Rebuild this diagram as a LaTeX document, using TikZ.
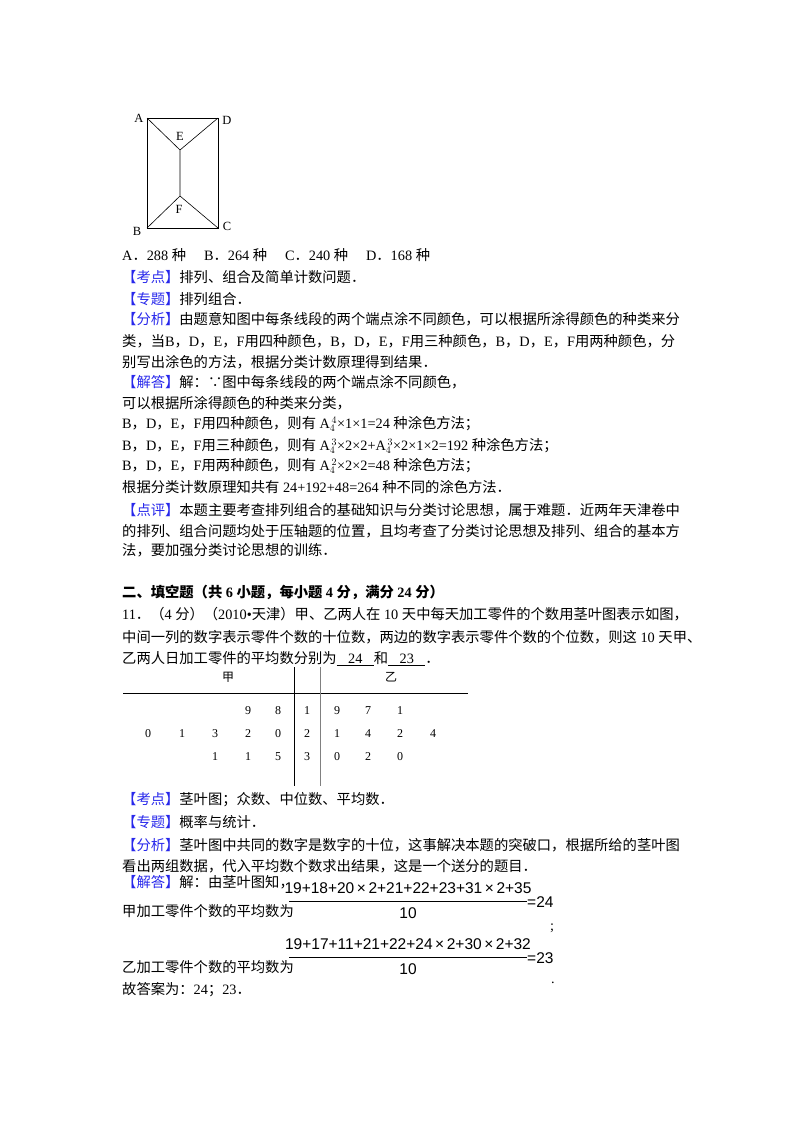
\documentclass[tikz,border=0pt]{standalone}
\usepackage{fontspec}
\setmainfont{Liberation Serif}
\newfontfamily\cjk{Noto Sans CJK SC}
\newfontfamily\arialf{Liberation Sans}
\XeTeXinterchartokenstate=1
\newXeTeXintercharclass\CJKcls
\newcount\cc
\cc="3000 \loop \XeTeXcharclass\cc=\CJKcls \advance\cc 1 \ifnum\cc<"A000 \repeat
\cc="FF00 \loop \XeTeXcharclass\cc=\CJKcls \advance\cc 1 \ifnum\cc<"FFF0 \repeat
\XeTeXcharclass`∵=\CJKcls
\XeTeXinterchartoks 0 \CJKcls = {\cjk}
\XeTeXinterchartoks 4095 \CJKcls = {\cjk}
\XeTeXinterchartoks \CJKcls 0 = {\rmfamily}
\XeTeXinterchartoks \CJKcls 4095 = {\rmfamily}
\definecolor{lb}{RGB}{40,40,235}
\newcommand{\lab}[1]{\textcolor{lb}{【#1】}}
\begin{document}
\begin{tikzpicture}[x=1pt,y=-1pt,
  tl/.style={anchor=west,inner sep=0pt,font=\fontsize{14.3}{16}\selectfont},
  fl/.style={inner sep=0pt,font=\fontsize{12.5}{14}\selectfont},
  sl/.style={inner sep=0pt,font=\fontsize{12}{14}\selectfont},
  fr/.style={inner sep=0pt,font=\arialf\fontsize{15.5}{17}\selectfont}]
\useasboundingbox (0,0) rectangle (800,1132);
% figure
\coordinate (A) at (147,118); \coordinate (D) at (218,118);
\coordinate (B) at (147,228); \coordinate (C) at (218,228);
\coordinate (E) at (180,150); \coordinate (F) at (180,196);
\draw[line width=0.8pt] (A)--(D)--(C)--(B)--cycle;
\draw[line width=0.6pt] (A)--(E)--(D) (E)--(F) (B)--(F)--(C);
\node[fl] (lA) at (139,118) {A}; \node[fl] (lD) at (227,120) {D};
\node[fl] (lE) at (180,136) {E}; \node[fl] (lF) at (179,209) {F};
\node[fl] (lB) at (137,231) {B}; \node[fl] (lC) at (227,226) {C};
% text
\node[tl] (t1) at (122,255) {A．288 种\quad\ B．264 种\quad\ C．240 种\quad\ D．168 种};
\node[tl] (t2) at (122,277) {\lab{考点}排列、组合及简单计数问题．};
\node[tl] (t3) at (122,299) {\lab{专题}排列组合．};
\node[tl] (t4) at (122,319) {\lab{分析}由题意知图中每条线段的两个端点涂不同颜色，可以根据所涂得颜色的种类来分};
\node[tl] (t5) at (122,341) {类，当B，D，E，F用四种颜色，B，D，E，F用三种颜色，B，D，E，F用两种颜色，分};
\node[tl] (t6) at (122,362) {别写出涂色的方法，根据分类计数原理得到结果．};
\node[tl] (t7) at (122,382) {\lab{解答}解：∵图中每条线段的两个端点涂不同颜色，};
\node[tl] (t8) at (122,403) {可以根据所涂得颜色的种类来分类，};
\node[tl] (t9) at (122,424) {B，D，E，F用四种颜色，则有 A$_4^{\,4}$×1×1=24 种涂色方法；};
\node[tl] (t10) at (122,446) {B，D，E，F用三种颜色，则有 A$_4^{\,3}$×2×2+A$_4^{\,3}$×2×1×2=192 种涂色方法；};
\node[tl] (t11) at (122,466) {B，D，E，F用两种颜色，则有 A$_4^{\,2}$×2×2=48 种涂色方法；};
\node[tl] (t12) at (122,487) {根据分类计数原理知共有 24+192+48=264 种不同的涂色方法．};
\node[tl] (t13) at (122,510) {\lab{点评}本题主要考查排列组合的基础知识与分类讨论思想，属于难题．近两年天津卷中};
\node[tl] (t14) at (122,531) {的排列、组合问题均处于压轴题的位置，且均考查了分类讨论思想及排列、组合的基本方};
\node[tl] (t15) at (122,550) {法，要加强分类讨论思想的训练．};
\node[tl,font=\fontsize{14.3}{16}\selectfont\bfseries] (t16) at (122,592) {二、填空题（共 6 小题，每小题 4 分，满分 24 分）};
\node[tl] (t17) at (122,614) {11．（4 分）（2010•天津）甲、乙两人在 10 天中每天加工零件的个数用茎叶图表示如图，};
\node[tl] (t18) at (122,637) {中间一列的数字表示零件个数的十位数，两边的数字表示零件个数的个位数，则这 10 天甲、};
\node[tl] (t19) at (122,659) {乙两人日加工零件的平均数分别为\underline{\makebox[2.6em]{24}}和\underline{\makebox[2.6em]{23}}．};
% stem-leaf
\node[sl] (h1) at (228,677) {\cjk 甲}; \node[sl] (h2) at (391,677) {\cjk 乙};
\coordinate (hl) at (123,693); \coordinate (hr) at (468,693);
\draw[line width=0.7pt] (hl)--(hr);
\coordinate (v1a) at (294,667); \coordinate (v1b) at (294,786);
\coordinate (v2a) at (320,667); \coordinate (v2b) at (320,786);
\draw[line width=0.7pt] (v1a)--(v1b); \draw[line width=0.5pt,gray] (v2a)--(v2b);
\foreach \x/\v in {248/9,278/8,307/1,337/9,368/7,400/1} \node[sl] at (\x,711) {\v};
\foreach \x/\v in {148/0,182/1,215/3,248/2,278/0,307/2,337/1,368/4,400/2,433/4} \node[sl] at (\x,734) {\v};
\foreach \x/\v in {215/1,248/1,278/5,307/3,337/0,368/2,400/0} \node[sl] at (\x,757) {\v};
% lower text
\node[tl] (u1) at (122,800) {\lab{考点}茎叶图；众数、中位数、平均数．};
\node[tl] (u2) at (122,822) {\lab{专题}概率与统计．};
\node[tl] (u3) at (122,845) {\lab{分析}茎叶图中共同的数字是数字的十位，这事解决本题的突破口，根据所给的茎叶图};
\node[tl] (u4) at (122,866) {看出两组数据，代入平均数个数求出结果，这是一个送分的题目．};
\node[tl] (u5) at (122,882) {\lab{解答}解：由茎叶图知，};
\node[tl] (u6) at (122,911) {甲加工零件个数的平均数为};
\node[fr] (n1) at (408,888) {19+18+20\,×\,2+21+22+23+31\,×\,2+35};
\coordinate (b1l) at (289,901); \coordinate (b1r) at (527,901);
\draw[line width=0.8pt] (b1l)--(b1r);
\node[fr] (d1) at (408,913) {10};
\node[fr,anchor=west] (e1) at (527,902) {=24};
\node[tl] (s1) at (550,928) {;};
\node[tl] (u7) at (122,967) {乙加工零件个数的平均数为};
\node[fr] (n2) at (408,944) {19+17+11+21+22+24\,×\,2+30\,×\,2+32};
\coordinate (b2l) at (289,957); \coordinate (b2r) at (527,957);
\draw[line width=0.8pt] (b2l)--(b2r);
\node[fr] (d2) at (408,969) {10};
\node[fr,anchor=west] (e2) at (527,958) {=23};
\node[tl] (s2) at (551,983) {.};
\node[tl] (u8) at (122,990) {故答案为：24；23．};
\end{tikzpicture}
\end{document}
